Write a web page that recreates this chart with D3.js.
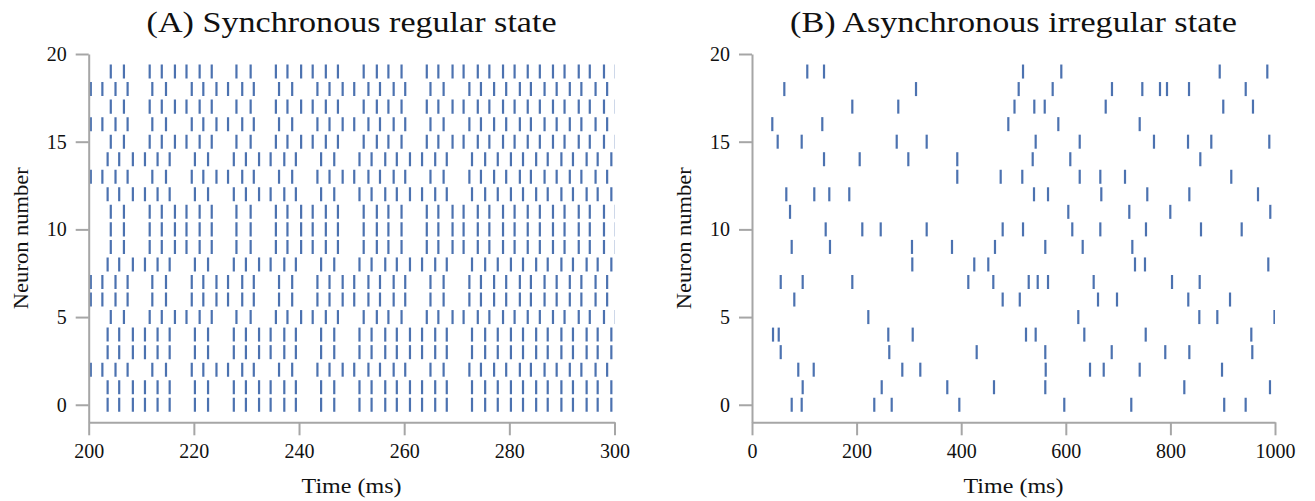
<!DOCTYPE html>
<html>
<head>
<meta charset="utf-8">
<script src="https://cdn.jsdelivr.net/npm/d3@7"></script>
<style>
  html, body { margin: 0; padding: 0; background: #fff; }
  svg { display: block; }
  text { font-family: "Liberation Serif", "DejaVu Serif", serif; fill: #111; }
</style>
</head>
<body>
<svg id="chart" width="1315" height="501"></svg>
<script>
// ---- Panel A: synchronous regular state (200–300 ms window) ----
// Three phase groups of spike times (ms); every neuron fires with one of them.
const phaseGroup1 = [204.2, 206.7, 211.6, 213.9, 216.4, 218.6, 221.1, 223.4, 228.1, 230.8,
  235.6, 237.8, 240.4, 242.6, 245.1, 247.4, 252.3, 254.8, 257.0, 259.5, 264.3, 266.5,
  269.2, 271.3, 274.0, 276.2, 278.8, 281.0, 283.5, 285.8, 288.3, 290.5, 293.2, 295.3, 298.0, 300.2];
const phaseGroup2 = [200.4, 202.6, 205.1, 207.4, 212.1, 214.7, 219.6, 221.8, 224.3, 226.5,
  229.2, 231.4, 236.2, 238.7, 243.5, 245.8, 248.3, 250.5, 253.2, 255.4, 258.0, 260.2,
  265.0, 267.5, 272.4, 274.6, 277.1, 279.4, 282.0, 284.1, 286.7, 289.0, 291.5, 293.7, 296.4, 298.6];
const phaseGroup3 = [203.6, 205.8, 208.4, 210.7, 213.1, 215.4, 220.2, 222.7, 227.6, 229.9,
  232.4, 234.6, 237.2, 239.4, 244.2, 246.7, 251.5, 253.8, 256.4, 258.6, 261.1, 263.4,
  265.9, 268.1, 272.9, 275.4, 277.8, 280.3, 282.6, 285.1, 287.3, 289.9, 292.1, 294.7, 296.8, 299.4];
// Group of each neuron, neuron 0 first
const neuronGroupA = [3, 3, 2, 3, 3, 1, 2, 2, 3, 1, 1, 1, 3, 2, 3, 1, 2, 1, 2, 1];

// ---- Panel B: asynchronous irregular state (0–1000 ms) ----
// Spike times (ms) per neuron, neuron 0 first
const spikesB = [
  [75.9, 95.0, 233.8, 267.1, 396.4, 597.1, 725.2, 902.9, 943.9],
  [96.9, 248.0, 373.4, 462.7, 560.8, 826.6, 990.4],
  [88.5, 118.0, 287.4, 321.8, 561.6, 646.3, 672.5, 741.3, 898.7],
  [54.9, 262.5, 429.6, 560.8, 687.8, 790.2, 836.2, 956.6],
  [40.2, 51.1, 260.6, 307.3, 523.9, 542.4, 635.4, 752.8, 954.7],
  [222.4, 623.9, 855.3, 889.7, 999.0],
  [80.9, 479.3, 512.0, 661.6, 697.9, 834.2, 914.0],
  [54.9, 96.9, 191.8, 413.6, 461.4, 529.1, 546.3, 566.0, 653.3, 803.1, 856.0],
  [306.5, 425.0, 451.8, 732.3, 751.4, 987.2],
  [75.9, 149.1, 305.9, 382.4, 464.6, 560.8, 632.3, 727.2],
  [140.9, 210.9, 246.1, 334.0, 479.3, 518.2, 612.4, 666.0, 753.3, 858.5, 936.3],
  [72.7, 604.8, 721.4, 799.8, 991.0],
  [65.6, 119.1, 147.8, 186.0, 539.2, 566.0, 667.9, 755.8, 836.2, 967.5],
  [392.5, 475.5, 516.8, 626.6, 666.0, 713.2, 916.4],
  [137.7, 205.9, 298.9, 392.5, 536.7, 608.6, 857.2],
  [49.1, 95.0, 276.7, 334.0, 542.4, 626.6, 768.6, 833.7, 878.2, 989.1],
  [38.8, 134.4, 490.1, 585.7, 741.3],
  [191.8, 279.7, 501.9, 539.8, 559.7, 676.3, 901.1, 957.9],
  [61.8, 313.6, 509.9, 574.9, 688.3, 746.3, 780.1, 793.5, 835.6, 944.0],
  [105.7, 137.7, 518.2, 591.4, 894.3, 985.3]
];

// Axis ticks and titles
const neuronTicks = [0, 5, 10, 15, 20];
const timeTicksA = [200, 220, 240, 260, 280, 300];
const timeTicksB = [0, 200, 400, 600, 800, 1000];
const titleA = "(A) Synchronous regular state";
const titleB = "(B) Asynchronous irregular state";
const xLabel = "Time (ms)";
const yLabel = "Neuron number";

const groupsA = { 1: phaseGroup1, 2: phaseGroup2, 3: phaseGroup3 };
const spikesA = neuronGroupA.map(g => groupsA[g]);

const svg = d3.select("#chart");
const spineColor = "#a6a6a6";
const spikeColor = "#4c72b0";

const yScale = d3.scaleLinear().domain([-1, 20]).range([422.3, 54]);

function panel(opts) {
  const { x, spikes, timeTicks, title, titleWidth, id } = opts;
  const g = svg.append("g");
  const [x0, x1] = x.range();

  g.append("clipPath").attr("id", id)
    .append("rect").attr("x", x0).attr("y", 40).attr("width", x1 - x0).attr("height", 390);

  // raster of spikes
  const rows = g.append("g").attr("clip-path", `url(#${id})`)
    .selectAll("g.row").data(spikes).join("g").attr("class", "row");
  rows.selectAll("line")
    .data((times, n) => times.map(t => ({ t, n })))
    .join("line")
    .attr("x1", d => x(d.t)).attr("x2", d => x(d.t))
    .attr("y1", d => yScale(d.n + 0.4)).attr("y2", d => yScale(d.n - 0.4))
    .attr("stroke", spikeColor).attr("stroke-width", 2.2);

  // y axis
  const ya = g.append("g").attr("transform", `translate(${x0},0)`)
    .call(d3.axisLeft(yScale).tickValues(neuronTicks).tickSize(13).tickSizeOuter(0).tickPadding(9).tickFormat(d3.format("d")));
  // x axis
  const xa = g.append("g").attr("transform", `translate(0,${yScale(-1)})`)
    .call(d3.axisBottom(x).tickValues(timeTicks).tickSize(13).tickSizeOuter(0).tickPadding(9).tickFormat(d3.format("d")));

  [ya, xa].forEach(a => {
    a.select(".domain").attr("stroke", spineColor).attr("stroke-width", 2);
    a.selectAll(".tick line").attr("stroke", spineColor).attr("stroke-width", 2);
    a.selectAll(".tick text").attr("font-size", 20).attr("fill", "#111")
      .style("font-family", '"Liberation Serif", serif');
  });

  g.append("text").attr("x", (x0 + x1) / 2).attr("y", 32)
    .attr("text-anchor", "middle").attr("font-size", 30)
    .attr("textLength", titleWidth).attr("lengthAdjust", "spacingAndGlyphs").text(title);
  g.append("text").attr("x", (x0 + x1) / 2).attr("y", 493)
    .attr("text-anchor", "middle").attr("font-size", 20)
    .attr("textLength", 100).attr("lengthAdjust", "spacingAndGlyphs").text(xLabel);
  g.append("text")
    .attr("transform", `translate(${x0 - 61},${(yScale(-1) + yScale(20)) / 2}) rotate(-90)`)
    .attr("text-anchor", "middle").attr("font-size", 20)
    .attr("textLength", 142).attr("lengthAdjust", "spacingAndGlyphs").text(yLabel);
}

panel({
  id: "clipA",
  x: d3.scaleLinear().domain([200, 300]).range([88.7, 614.5]),
  spikes: spikesA, timeTicks: timeTicksA, title: titleA, titleWidth: 410
});
panel({
  id: "clipB",
  x: d3.scaleLinear().domain([0, 1000]).range([752, 1275]),
  spikes: spikesB, timeTicks: timeTicksB, title: titleB, titleWidth: 447
});
</script>
</body>
</html>
